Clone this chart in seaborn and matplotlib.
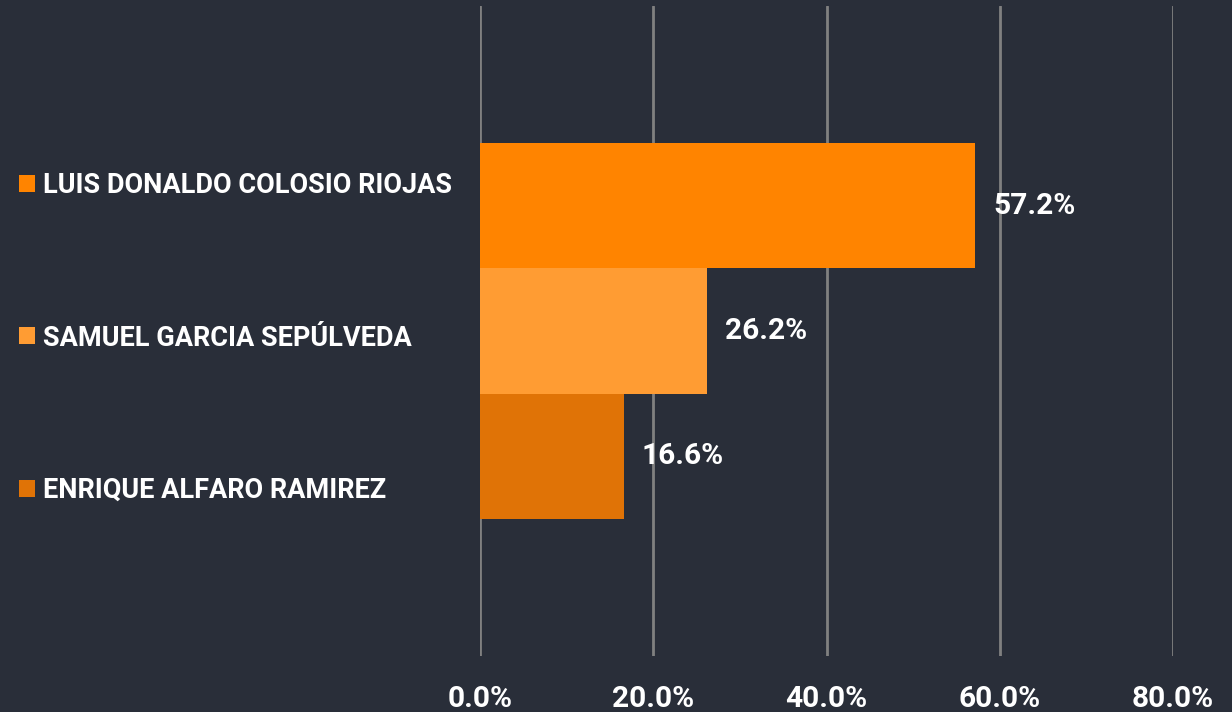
from matplotlib import pyplot as plt
from matplotlib.patches import Patch
from matplotlib.ticker import FuncFormatter
import pandas as pd
import seaborn as sns

# Data
candidates = ["LUIS DONALDO COLOSIO RIOJAS", "SAMUEL GARCIA SEPÚLVEDA", "ENRIQUE ALFARO RAMIREZ"]
shares = [57.2, 26.2, 16.6]
bar_colors = ["#ff8400", "#ff9c33", "#e07306"]
x_ticks = [0, 20, 40, 60, 80]

bg = "#292e39"

df = pd.DataFrame({"group": ["all"] * len(candidates), "candidate": candidates, "share": shares})

sns.set_style("dark")
plt.rcParams["font.family"] = ["Roboto", "DejaVu Sans"]

fig = plt.figure(figsize=(12.32, 7.12), dpi=100, facecolor=bg)
ax = fig.add_axes([480 / 1232, 1 - 656 / 712, 693 / 1232, 650 / 712])
ax.set_facecolor(bg)

sns.barplot(data=df, x="share", y="group", hue="candidate", hue_order=candidates,
            palette=bar_colors, orient="h", width=0.578, saturation=1,
            edgecolor="none", linewidth=0, legend=False, ax=ax)

# Data labels
for cont in ax.containers:
    ax.bar_label(cont, fmt="%.1f%%", padding=13, color="white",
                 fontsize=21.5, fontweight="bold")

ax.set_xlim(0, 80)
ax.set_ylim(0.5, -0.5)
ax.set_xticks(x_ticks)
ax.xaxis.set_major_formatter(FuncFormatter(lambda v, p: f"{v:.1f}%"))
ax.tick_params(axis="x", length=0, pad=21, labelsize=21.5, labelcolor="white")
for t in ax.get_xticklabels():
    t.set_fontweight("bold")
ax.set_yticks([])
ax.set_xlabel("")
ax.set_ylabel("")
ax.grid(axis="x", color="#808080", linewidth=2)
ax.grid(axis="y", visible=False)
for s in ax.spines.values():
    s.set_visible(False)

# Legend at the left, one entry level with each bar
handles = [Patch(facecolor=c, edgecolor="none") for c in bar_colors]
leg = ax.legend(handles, candidates, loc="center left",
                bbox_to_anchor=(19 / 1232, 1 - 338 / 712), bbox_transform=fig.transFigure,
                frameon=False, borderpad=0, borderaxespad=0,
                handlelength=0.59, handleheight=0.59, handletextpad=0.3,
                labelspacing=4.63, prop={"size": 19.5, "weight": "bold"})
for t in leg.get_texts():
    t.set_color("white")

fig.savefig("out.png", dpi=100, facecolor=bg)
